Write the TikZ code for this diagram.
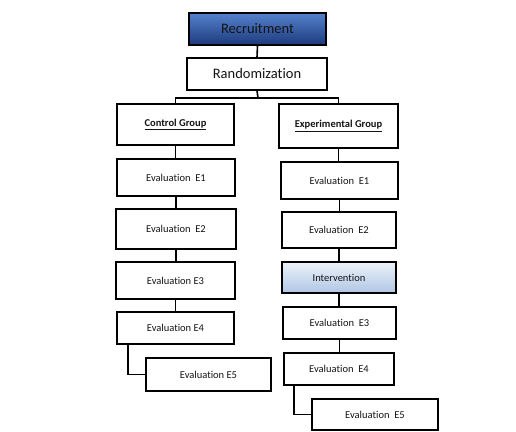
\documentclass[tikz,border=0pt]{standalone}
\usepackage{fontspec}
\setmainfont[Ligatures=NoCommon]{Carlito}
\usetikzlibrary{calc}
\definecolor{txt}{RGB}{20,20,20}
\definecolor{recTop}{RGB}{85,130,205}
\definecolor{recBot}{RGB}{28,58,125}
\definecolor{intTop}{RGB}{236,242,250}
\definecolor{intBot}{RGB}{176,198,228}
\tikzset{
  box/.style={draw=black, line width=1.5pt, fill=white, inner sep=0pt, text=txt, font=\fontsize{10.5}{12}\selectfont},
  bigbox/.style={box, font=\fontsize{14.5}{16}\selectfont},
  link/.style={draw=black, line width=1.6pt},
}
\newcommand{\bx}[6]{% name, style, x1, y1, x2, y2 -> text via next arg
  \node[#2, minimum width={(#5-#3)*1pt}, minimum height={(#6-#4)*1pt}] (#1) at ({(#3+#5)/2},{(#4+#6)/2})}
\begin{document}
\begin{tikzpicture}[x=1pt,y=-1pt]
\useasboundingbox (0,0) rectangle (516,431);
\fill[white] (0,0) rectangle (516,431);
% top
\bx{rec}{bigbox, top color=recTop, bottom color=recBot}{189}{13}{326}{45} {Recruitment};
\bx{rand}{bigbox}{187}{58}{327}{90} {Randomization};
% control column
\bx{cg}{box}{117}{104}{234}{145} {\textbf{\underline{Control Group}}};
\bx{c1}{box}{117}{159}{235}{196} {Evaluation\ \ E1};
\bx{c2}{box}{116}{209}{236}{249} {Evaluation\ \ E2};
\bx{c3}{box}{116}{262}{235}{299} {Evaluation E3};
\bx{c4}{box}{117}{312}{234}{344} {Evaluation E4};
\bx{c5}{box}{146}{358}{271}{391} {Evaluation E5};
% experimental column
\bx{eg}{box}{279}{104}{398}{148} {\textbf{\underline{Experimental Group}}};
\bx{e1}{box}{281}{162}{398}{199} {Evaluation\ \ E1};
\bx{e2}{box}{282}{212}{396}{248} {Evaluation\ \ E2};
\bx{iv}{box, top color=intTop, bottom color=intBot}{282}{262}{396}{293} {Intervention};
\bx{e3}{box}{283}{307}{396}{339} {Evaluation\ \ E3};
\bx{e4}{box}{284}{353}{394}{385} {Evaluation\ \ E4};
\bx{e5}{box}{312}{399}{438}{430} {Evaluation\ \ E5};
% connectors
\coordinate (bus) at (258,98);
\draw[link] (rec.south) -- (rand.north);
\draw[link] (rand.south) -- (bus);
\draw[link] (cg.north) |- (bus) -| (eg.north);
\foreach \a/\b in {cg/c1,c1/c2,c2/c3,c3/c4,eg/e1,e1/e2,e2/iv,iv/e3,e3/e4}
  \draw[link] (\a.south) -- (\a.south |- \b.north);
\draw[link] ([xshift=12pt]c4.south west) |- (c5.west);
\draw[link] ([xshift=11pt]e4.south west) |- (e5.west);
\end{tikzpicture}
\end{document}
